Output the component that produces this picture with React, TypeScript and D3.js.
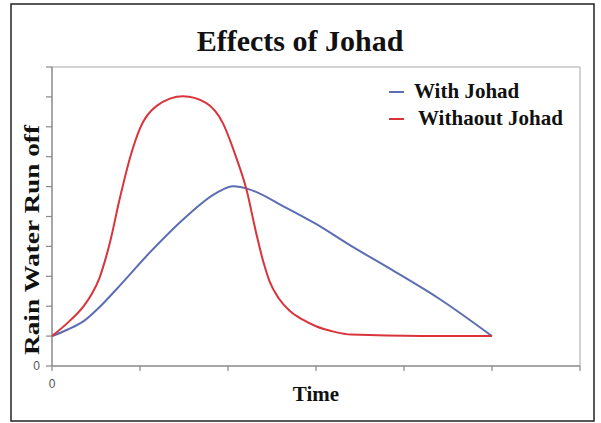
import * as d3 from "d3";

// time steps (x) and run-off values (y)
const withTime = [0, 0.18, 0.36, 0.55, 0.73, 1.11, 1.49, 1.87, 2.06, 2.25, 2.63, 3.0, 3.38, 3.9, 4.4, 5.0];
const withValues = [1, 1.22, 1.5, 2.0, 2.56, 3.79, 4.9, 5.79, 6.01, 5.9, 5.34, 4.75, 4.05, 3.15, 2.25, 1.0];

const withoutTime = [0, 0.18, 0.36, 0.45, 0.54, 0.6, 0.66, 0.77, 0.89, 1.0, 1.19, 1.49, 1.75, 1.94, 2.09, 2.21, 2.32, 2.4, 2.47, 2.58, 2.7, 2.85, 3.0, 3.2, 3.4, 4.2, 5.0];
const withoutValues = [1, 1.45, 2.0, 2.4, 2.95, 3.5, 4.15, 5.6, 7.0, 7.95, 8.7, 9.02, 8.8, 8.13, 7.0, 5.9, 4.45, 3.5, 2.85, 2.25, 1.85, 1.55, 1.33, 1.15, 1.05, 1.0, 1.0];

const xTicks = [0, 1, 2, 3, 4, 5, 6];
const yTicks = [0, 1, 2, 3, 4, 5, 6, 7, 8, 9, 10];
const seriesNames = ["With Johad", "Withaout Johad"];
const seriesColors = ["#5b6db3", "#d8343a"];

function App() {
	const width = 601;
	const height = 423;
	const left = 52;
	const right = 580;
	const top = 67;
	const bottom = 366;

	const x = d3.scaleLinear().domain([0, 6]).range([left, right]);
	const y = d3.scaleLinear().domain([0, 10]).range([bottom, top]);

	const line: any = d3
		.line<[number, number]>()
		.x((d) => x(d[0]))
		.y((d) => y(d[1]))
		.curve(d3.curveMonotoneX);

	const withPath: string = line(withTime.map((t, i) => [t, withValues[i]]));
	const withoutPath: string = line(withoutTime.map((t, i) => [t, withoutValues[i]]));

	const serif = "'Liberation Serif', 'DejaVu Serif', serif";

	return (
		<svg
			width={width}
			height={height}
			style={{ position: "absolute", left: 0, top: 0, background: "#fff" }}
		>
			<rect x={0} y={0} width={width} height={height} fill="#fff" />
			<rect x={11} y={4} width={583} height={417} fill="none" stroke="#222" strokeWidth={1.5} />

			<text x={300} y={51} textAnchor="middle" fontFamily={serif} fontWeight="bold" fontSize={30} fill="#111">
				Effects of Johad
			</text>

			{/* plot frame */}
			<line x1={left} x2={right} y1={top} y2={top} stroke="#c4c4c4" strokeWidth={1.5} />
			<line x1={right} x2={right} y1={top} y2={bottom} stroke="#c4c4c4" strokeWidth={1.5} />

			{/* axes */}
			<line x1={left} x2={left} y1={top} y2={bottom} stroke="#888" strokeWidth={1.5} />
			<line x1={left} x2={right} y1={bottom} y2={bottom} stroke="#888" strokeWidth={1.5} />
			{yTicks.map((t) => (
				<line key={"y" + t} x1={left - 6} x2={left} y1={y(t)} y2={y(t)} stroke="#888" strokeWidth={1.2} />
			))}
			{xTicks.map((t) => (
				<line key={"x" + t} x1={x(t)} x2={x(t)} y1={bottom} y2={bottom + 5} stroke="#888" strokeWidth={1.2} />
			))}
			<text x={left - 12} y={y(0) + 4} textAnchor="end" fontFamily="'Liberation Sans', Arial, sans-serif" fontSize={12} fill="#555">
				{yTicks[0]}
			</text>
			<text x={x(0)} y={bottom + 22} textAnchor="middle" fontFamily="'Liberation Sans', Arial, sans-serif" fontSize={12} fill="#555">
				{xTicks[0]}
			</text>

			{/* series */}
			<path d={withPath} fill="none" stroke={seriesColors[0]} strokeWidth={2} />
			<path d={withoutPath} fill="none" stroke={seriesColors[1]} strokeWidth={2} />

			{/* legend */}
			{seriesNames.map((name, i) => (
				<g key={name}>
					<line x1={389} x2={404} y1={92 + i * 27} y2={92 + i * 27} stroke={seriesColors[i]} strokeWidth={2} />
					<text x={414 + i * 4} y={98 + i * 27} fontFamily={serif} fontWeight="bold" fontSize={21} fill="#111">
						{name}
					</text>
				</g>
			))}

			{/* axis titles */}
			<text x={316} y={401} textAnchor="middle" fontFamily={serif} fontWeight="bold" fontSize={21} fill="#111">
				Time
			</text>
			<text
				transform={`translate(39, 240) rotate(-90)`}
				textAnchor="middle"
				fontFamily={serif}
				fontWeight="bold"
				fontSize={22}
				textLength={230}
				lengthAdjust="spacingAndGlyphs"
				fill="#111"
			>
				Rain Water Run off
			</text>
		</svg>
	);
}

export default App;
